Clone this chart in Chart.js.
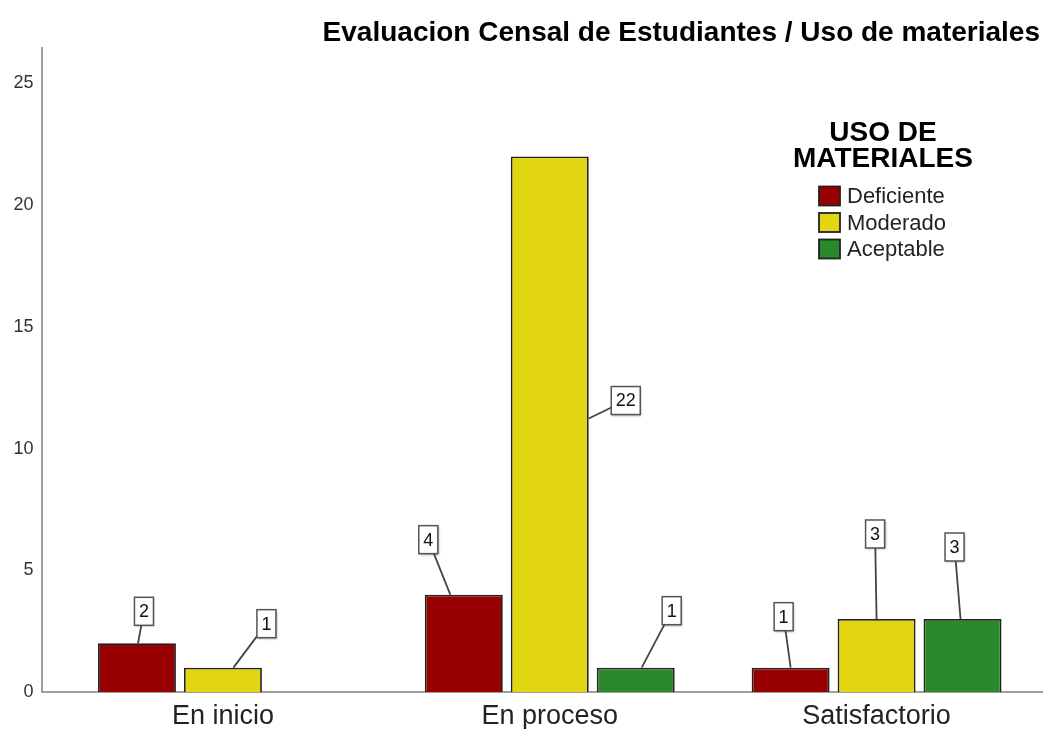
<!DOCTYPE html>
<html>
<head>
<meta charset="utf-8">
<script src="https://cdn.jsdelivr.net/npm/chart.js@4"></script>
<style>
  html, body { margin: 0; padding: 0; background: #fff; }
</style>
</head>
<body>
<canvas id="chart" width="1043" height="729"></canvas>
<script>
// datos
const categories = ["En inicio", "En proceso", "Satisfactorio"];
const seriesNames = ["Deficiente", "Moderado", "Aceptable"];
const deficiente = [2, 4, 1];
const moderado = [1, 22, 3];
const aceptable = [null, 1, 3];
const yTicks = [0, 5, 10, 15, 20, 25];

const FONT = "'Liberation Sans', Arial, sans-serif";
const colors = ["#990000", "#E2D612", "#2B882B"];
const AXIS_GAP = 17.5;

// caja de etiqueta respecto al centro superior de la barra: [boxDx, boxDy, anchorDx, anchorDy]
const labelOffsets = [
  [[7, -32, 1, 0], [-35.5, -55, -13.5, 0], [-7, -51, 0, 0]],
  [[43.5, -44, 10.5, 0], [76, 244, 39, 262], [-1.5, -85, 0, 0]],
  [null, [36, -57, 6, 0], [-8, -72, -2, 0]]
];

// ejes como en SPSS: eje Y separado del primer grupo
const axisLines = {
  id: "axisLines",
  beforeDatasetsDraw(chart) {
    const { ctx: c, chartArea: a } = chart;
    const x0 = a.left - AXIS_GAP;
    c.save();
    c.strokeStyle = "#808080";
    c.lineWidth = 1.5;
    c.beginPath();
    c.moveTo(x0, a.top);
    c.lineTo(x0, a.bottom);
    c.lineTo(chart.width, a.bottom);
    c.stroke();
    c.restore();
  }
};

// etiquetas con caja y linea guia
const valueLabels = {
  id: "valueLabels",
  afterDatasetsDraw(chart) {
    const c = chart.ctx;
    c.save();
    c.font = "18px " + FONT;
    chart.data.datasets.forEach((ds, di) => {
      chart.getDatasetMeta(di).data.forEach((bar, i) => {
        const v = ds.data[i];
        const off = labelOffsets[di][i];
        if (v == null || !off) return;
        const bx = bar.x + off[0], by = bar.y + off[1];
        const ax = bar.x + off[2], ay = bar.y + off[3];
        c.strokeStyle = "#444";
        c.lineWidth = 1.8;
        c.beginPath();
        c.moveTo(ax, ay);
        c.lineTo(bx, by);
        c.stroke();
        const txt = String(v);
        const w = c.measureText(txt).width + 9, h = 28;
        c.shadowColor = "rgba(0,0,0,0.35)";
        c.shadowBlur = 2;
        c.shadowOffsetX = 1;
        c.shadowOffsetY = 1;
        c.fillStyle = "#fff";
        c.fillRect(bx - w / 2, by - h / 2, w, h);
        c.shadowColor = "transparent";
        c.strokeStyle = "#555";
        c.lineWidth = 1.5;
        c.strokeRect(bx - w / 2, by - h / 2, w, h);
        c.fillStyle = "#111";
        c.textAlign = "center";
        c.textBaseline = "middle";
        c.fillText(txt, bx, by + 1);
      });
    });
    c.restore();
  }
};

// leyenda dentro del area del grafico
const boxLegend = {
  id: "boxLegend",
  afterDraw(chart) {
    const c = chart.ctx;
    c.save();
    c.fillStyle = "#000";
    c.textAlign = "center";
    c.textBaseline = "middle";
    c.font = "bold 28px " + FONT;
    c.fillText("USO DE", 883, 133);
    c.fillText("MATERIALES", 883, 159);
    c.font = "22px " + FONT;
    c.textAlign = "left";
    chart.data.datasets.forEach((ds, i) => {
      const y = 196 + i * 26.5;
      c.fillStyle = ds.backgroundColor;
      c.fillRect(819, y - 9.5, 21, 19);
      c.strokeStyle = "#222";
      c.lineWidth = 1.8;
      c.strokeRect(819, y - 9.5, 21, 19);
      c.fillStyle = "#222";
      c.fillText(ds.label, 847, y + 1);
    });
    c.restore();
  }
};

const series = [deficiente, moderado, aceptable];

new Chart(document.getElementById("chart"), {
  type: "bar",
  data: {
    labels: categories,
    datasets: series.map((d, i) => ({
      label: seriesNames[i],
      data: d,
      backgroundColor: colors[i],
      borderColor: "#222",
      borderWidth: 1.8,
      categoryPercentage: 0.789,
      barPercentage: 0.907
    }))
  },
  options: {
    responsive: false,
    animation: false,
    layout: { padding: { left: 0, right: 3, top: 0, bottom: 0 } },
    plugins: {
      legend: { display: false },
      tooltip: { enabled: false },
      title: {
        display: true,
        text: "Evaluacion Censal de Estudiantes / Uso de materiales",
        align: "end",
        color: "#000",
        font: { family: FONT, size: 28, weight: "bold", lineHeight: 1 },
        padding: { top: 19, bottom: 0 }
      }
    },
    scales: {
      x: {
        grid: { display: false, drawTicks: false },
        border: { display: false },
        ticks: { padding: 11, color: "#222", font: { family: FONT, size: 27, lineHeight: 1 } },
        afterFit: s => { s.height = 37; }
      },
      y: {
        min: 0,
        max: 26.5,
        afterBuildTicks: s => { s.ticks = yTicks.map(v => ({ value: v })); },
        grid: { display: false, drawTicks: false },
        border: { display: false },
        ticks: { padding: 26, color: "#333", font: { family: FONT, size: 18 } },
        afterFit: s => { s.width = 59.5; }
      }
    }
  },
  plugins: [axisLines, valueLabels, boxLegend]
});
</script>
</body>
</html>
